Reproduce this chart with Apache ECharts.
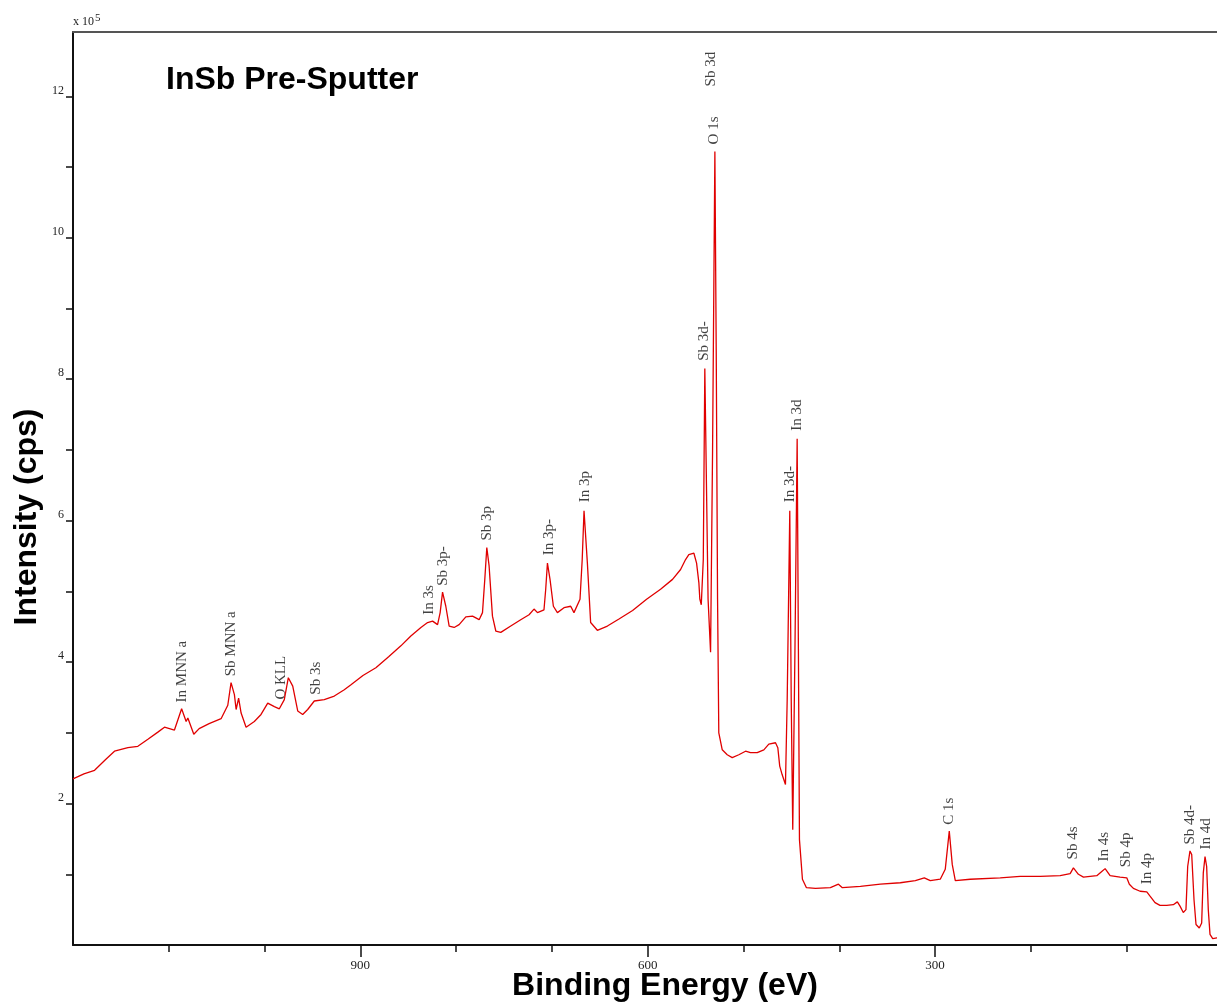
<!DOCTYPE html>
<html>
<head>
<meta charset="utf-8">
<title>InSb Pre-Sputter survey</title>
<script src="https://cdn.jsdelivr.net/npm/echarts@6/dist/echarts.min.js"></script>
<style>
  html, body { margin: 0; padding: 0; background: #fff; }
  #chart { width: 1217px; height: 1003px; }
</style>
</head>
<body>
<div id="chart"></div>
<script>
// XPS survey spectrum, binding energy (eV) vs intensity (units of 1e5 cps)
const bindingEnergy = [
  1200, 1188.6, 1177.5, 1166.2, 1156.7, 1142.7, 1132.3, 1121.8, 1111.4, 1104.5, 1094.1, 1086.6,
  1081.9, 1080.1, 1073.9, 1068.3, 1057.9, 1045.4, 1038.4, 1035, 1031.5, 1029.7,
  1027.1, 1024.5, 1019.3, 1010.7, 1003.7, 996.7, 989.8, 984.6, 979.4, 975.2,
  970.6, 965.4, 960.2, 955, 948.1, 937.7, 927.2, 916.8, 909.8, 897.3,
  883.8, 870.2, 857.7, 847.3, 836.8, 829.8, 824.6, 819.4, 816.7, 814.2,
  810.8, 807.3, 802.1, 796.9, 789.9, 782.9, 776, 772.5, 770.1, 768,
  765.6, 762.1, 758.6, 753.4, 743, 732.6, 723.9, 718.7, 715.1, 708.3,
  706.5, 704.7, 702, 698.5, 694.3, 687.4, 680.4, 677, 670.7, 668.4,
  666.5, 663, 659.6, 652.6, 642.1, 630, 615.8, 601.2, 586.6, 574.1,
  565.7, 560.5, 557.1, 551.8, 549, 546.6, 545.6, 544.1, 542, 540.4,
  537, 534.4, 532.3, 529.9, 528.5, 527.1, 525.8, 522.2, 517, 511.8,
  504.9, 497.9, 492.7, 485.7, 478.8, 473.6, 466.6, 464.2, 462.2, 459.7,
  456.2, 454.4, 451.7, 450.2, 448.6, 446.3, 444, 442.7, 441.6, 438.5,
  434.3, 424.9, 409.3, 400.9, 396.8, 378, 357.1, 336.3, 320.6, 311.3,
  305, 294.6, 289.4, 285.2, 282.1, 278.9, 263.3, 232, 211.2, 190.3,
  169.4, 159, 155.6, 150.4, 145.1, 131.2, 126, 122.5, 117.3, 106.9,
  99.9, 97.2, 93, 86, 79, 75.6, 70.4, 65.2, 58.2, 51.3,
  47.1, 44.3, 40.9, 38.1, 36.3, 33.9, 32.1, 29.7, 27.6, 24.2,
  21.7, 20, 18.2, 16.5, 14.8, 13, 10.2, 5.7, 0
];
const intensity = [
  2.35, 2.42, 2.47, 2.62, 2.74, 2.79, 2.81, 2.91, 3.01, 3.08, 3.04, 3.34,
  3.16, 3.21, 2.98, 3.06, 3.13, 3.20, 3.39, 3.71, 3.54, 3.33,
  3.49, 3.28, 3.08, 3.16, 3.26, 3.42, 3.37, 3.34, 3.47, 3.78,
  3.66, 3.31, 3.26, 3.33, 3.45, 3.47, 3.52, 3.61, 3.68, 3.81,
  3.92, 4.08, 4.23, 4.37, 4.49, 4.56, 4.58, 4.53, 4.70, 4.99,
  4.79, 4.51, 4.49, 4.53, 4.64, 4.65, 4.60, 4.70, 5.17, 5.62,
  5.36, 4.65, 4.44, 4.42, 4.51, 4.60, 4.67, 4.75, 4.70, 4.74,
  5.03, 5.40, 5.17, 4.79, 4.70, 4.77, 4.79, 4.70, 4.89, 5.45,
  6.14, 5.40, 4.56, 4.45, 4.51, 4.61, 4.73, 4.89, 5.03, 5.17,
  5.31, 5.45, 5.52, 5.54, 5.40, 5.12, 4.89, 4.81, 5.45, 8.15,
  4.89, 4.14, 7.01, 11.22, 8.42, 4.89, 3.00, 2.76, 2.69, 2.65,
  2.69, 2.74, 2.72, 2.72, 2.76, 2.84, 2.86, 2.79, 2.53, 2.41,
  2.27, 3.47, 6.14, 3.47, 1.63, 4.18, 7.16, 4.18, 1.49, 0.93,
  0.81, 0.80, 0.81, 0.86, 0.81, 0.83, 0.86, 0.88, 0.91, 0.95,
  0.91, 0.93, 1.07, 1.61, 1.14, 0.91, 0.93, 0.95, 0.97, 0.97,
  0.98, 1.01, 1.09, 1.00, 0.96, 0.98, 1.04, 1.08, 0.98, 0.96,
  0.95, 0.86, 0.80, 0.76, 0.75, 0.69, 0.60, 0.56, 0.56, 0.57,
  0.61, 0.55, 0.46, 0.50, 1.11, 1.33, 1.28, 0.64, 0.29, 0.24,
  0.31, 1.02, 1.25, 1.11, 0.50, 0.15, 0.09, 0.10, 0.10
];

// Peak assignments: name, binding energy of the label, intensity where the label starts
const peakNames = [
  'In MNN a', 'Sb MNN a', 'O KLL', 'Sb 3s', 'In 3s', 'Sb 3p-', 'Sb 3p', 'In 3p-',
  'In 3p', 'Sb 3d-', 'O 1s', 'Sb 3d', 'In 3d-', 'In 3d', 'C 1s', 'Sb 4s',
  'In 4s', 'Sb 4p', 'In 4p', 'Sb 4d-', 'In 4d'
];
const peakLabelEnergy = [
  1086.1, 1035, 982.8, 946.3, 828.5, 813.9, 768, 703.4,
  665.8, 540.7, 530.3, 534.4, 451, 443.7, 285.2, 155.9,
  123.6, 100.6, 78.7, 33.9, 17.2
];
const peakLabelIntensity = [
  3.43, 3.80, 3.47, 3.54, 4.67, 5.08, 5.72, 5.51,
  6.26, 8.26, 11.32, 12.14, 6.26, 7.27, 1.70, 1.21,
  1.18, 1.10, 0.86, 1.42, 1.35
];

// Axis ticks
const xTickValues = [100, 200, 400, 500, 700, 800, 1000, 1100];
const xMajorTickValues = [300, 600, 900];
const xLabelValues = [300, 600, 900];
const yTickValues = [1, 2, 3, 4, 5, 6, 7, 8, 9, 10, 11, 12];
const yLabelValues = [2, 4, 6, 8, 10, 12];

const spectrum = bindingEnergy.map((e, i) => [e, intensity[i]]);
const peakMarks = peakNames.map((n, i) => ({ name: n, value: [peakLabelEnergy[i], peakLabelIntensity[i]] }));

const serif = '"Liberation Serif", "Times New Roman", serif';
const sans = '"Liberation Sans", Arial, Helvetica, sans-serif';

// the energy window runs past the right edge of the page, so the axis stops at ~5.7 eV
const xLow = 5.7;
const xHigh = 1200;

const chart = echarts.init(document.getElementById('chart'), null, { renderer: 'canvas' });

chart.setOption({
  animation: false,
  backgroundColor: '#ffffff',
  title: {
    text: 'InSb Pre-Sputter',
    left: 161,
    top: 59,
    textStyle: { fontFamily: sans, fontWeight: 'bold', fontSize: 32, color: '#000' }
  },
  grid: {
    left: 73, right: 0, top: 32, bottom: 58,
    containLabel: false,
    outerBoundsMode: 'none',
    show: false
  },
  xAxis: [
    {
      type: 'value', min: xLow, max: xHigh, inverse: true, position: 'bottom',
      axisLine: { onZero: false, lineStyle: { color: '#111', width: 2 } },
      axisTick: { customValues: xMajorTickValues, length: 12, lineStyle: { color: '#111', width: 1.5 } },
      axisLabel: { customValues: xLabelValues, fontFamily: serif, fontSize: 13, color: '#222', margin: 14 },
      splitLine: { show: false }
    },
    {
      type: 'value', min: xLow, max: xHigh, inverse: true, position: 'bottom',
      axisLine: { show: false, onZero: false },
      axisTick: { customValues: xTickValues, length: 7, lineStyle: { color: '#111', width: 1.5 } },
      axisLabel: { show: false },
      splitLine: { show: false }
    },
    {
      // top frame line
      type: 'value', min: xLow, max: xHigh, inverse: true, position: 'top',
      axisLine: { onZero: false, lineStyle: { color: '#555', width: 2 } },
      axisTick: { show: false },
      axisLabel: { show: false },
      splitLine: { show: false }
    }
  ],
  yAxis: {
    type: 'value', min: 0, max: 12.91, position: 'left',
    axisLine: { onZero: false, lineStyle: { color: '#111', width: 2 } },
    axisTick: { customValues: yTickValues, length: 7, lineStyle: { color: '#111', width: 1.5 } },
    axisLabel: {
      customValues: yLabelValues, fontFamily: serif, fontSize: 12, color: '#222',
      margin: 9, verticalAlign: 'bottom'
    },
    splitLine: { show: false },
    name: 'x 10{s|5}',
    nameLocation: 'end',
    nameGap: 1,
    nameTextStyle: {
      fontFamily: serif, fontSize: 12, color: '#222', align: 'left', verticalAlign: 'bottom',
      rich: { s: { fontFamily: serif, fontSize: 11, color: '#222', verticalAlign: 'bottom', padding: [0, 0, 7, 1] } }
    }
  },
  graphic: [
    {
      type: 'text', x: 27, y: 517, rotation: Math.PI / 2,
      style: { text: 'Intensity (cps)', fontFamily: sans, fontWeight: 'bold', fontSize: 32, fill: '#000', align: 'center', verticalAlign: 'middle' }
    },
    {
      type: 'text', x: 665, y: 986,
      style: { text: 'Binding Energy (eV)', fontFamily: sans, fontWeight: 'bold', fontSize: 32, fill: '#000', align: 'center', verticalAlign: 'middle' }
    }
  ],
  series: [
    {
      type: 'line',
      data: spectrum,
      showSymbol: false,
      symbol: 'none',
      lineStyle: { color: '#e00000', width: 1.3 },
      xAxisIndex: 0, yAxisIndex: 0
    },
    {
      type: 'scatter',
      data: peakMarks,
      symbolSize: 0,
      silent: true,
      xAxisIndex: 0, yAxisIndex: 0,
      label: {
        show: true,
        formatter: p => p.name,
        position: [0, 0],
        rotate: 90,
        align: 'left',
        verticalAlign: 'middle',
        fontFamily: serif,
        fontSize: 15,
        color: '#111'
      }
    }
  ]
});
</script>
</body>
</html>
